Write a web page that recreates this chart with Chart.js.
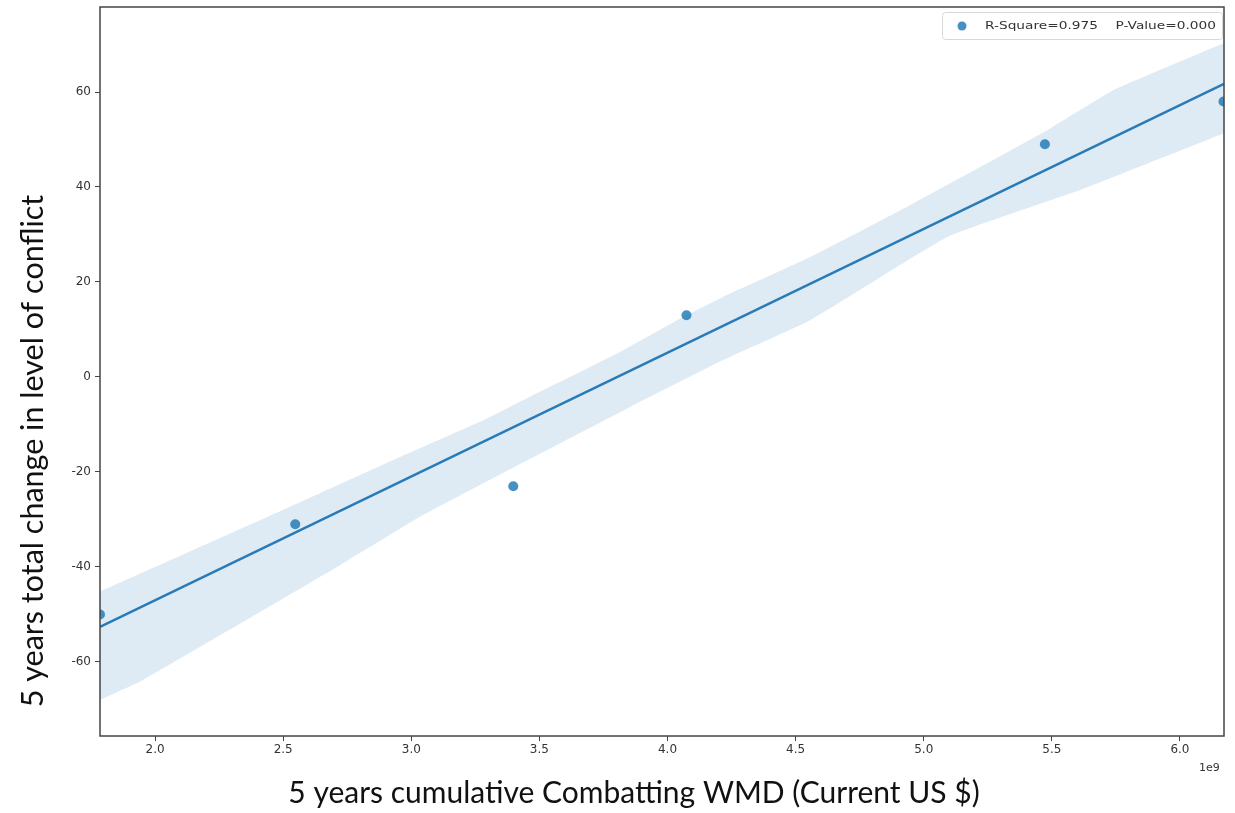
<!DOCTYPE html>
<html>
<head>
<meta charset="utf-8">
<script src="https://cdn.jsdelivr.net/npm/chart.js@4.4.1/dist/chart.umd.min.js"></script>
<style>
  html, body { margin: 0; padding: 0; background: #fff; }
  #wrap { width: 1235px; height: 813px; position: relative; }
</style>
</head>
<body>
<div id="wrap"><canvas id="c" width="1235" height="813"></canvas></div>
<script>
// ---- data ----
const pointX = [1.785e9, 2.547e9, 3.398e9, 4.074e9, 5.473e9, 6.170e9];
const pointY = [-50, -31, -23, 13, 49, 58];

const fitX = [1.785e9, 6.172e9];
const fitY = [-52.6, 61.7];

const upperX = [1.785e9, 2.516e9, 2.930e9, 3.270e9, 3.465e9, 3.805e9, 4.063e9, 4.219e9, 4.559e9, 4.961e9, 5.484e9, 5.742e9, 6.172e9];
const upperY = [-45.2, -27.6, -17.5, -9.4, -4.1, 5.0, 12.7, 16.9, 25.3, 36.6, 52.0, 60.4, 70.3];

const lowerX = [1.785e9, 1.953e9, 2.723e9, 3.035e9, 3.230e9, 3.504e9, 3.855e9, 4.219e9, 4.559e9, 5.094e9, 5.613e9, 6.172e9];
const lowerY = [-68.0, -63.8, -39.6, -29.4, -23.8, -16.1, -6.3, 3.6, 12.0, 29.5, 39.4, 51.3];

const xTicks = [2.0e9, 2.5e9, 3.0e9, 3.5e9, 4.0e9, 4.5e9, 5.0e9, 5.5e9, 6.0e9];
const yTicks = [-60, -40, -20, 0, 20, 40, 60];

const legendText = 'R-Square=0.975    P-Value=0.000';
const xTitle = '5 years cumulative Combatting WMD (Current US $)';
const yTitle = '5 years total change in level of conflict';
const offsetText = '1e9';

const zip = (xs, ys) => xs.map((x, i) => ({ x: x, y: ys[i] }));

const BLUE = '#2a7ab7';
const DOT = 'rgba(31,119,180,0.82)';
const BAND = 'rgba(31,119,180,0.15)';

const decor = {
  id: 'decor',
  afterDatasetsDraw(chart) {
    const ctx = chart.ctx;
    const a = chart.chartArea;
    ctx.save();
    // frame
    ctx.strokeStyle = '#444';
    ctx.lineWidth = 1.5;
    ctx.strokeRect(a.left, a.top, a.right - a.left, a.bottom - a.top);
    // legend box
    const lx = 942, ly = 12, lw = 280, lh = 27;
    ctx.fillStyle = 'rgba(255,255,255,0.9)';
    ctx.strokeStyle = '#d8d8d8';
    ctx.lineWidth = 1;
    ctx.beginPath();
    ctx.roundRect(lx + 0.5, ly + 0.5, lw, lh, 3);
    ctx.fill();
    ctx.stroke();
    ctx.fillStyle = DOT;
    ctx.beginPath();
    ctx.arc(962, 26, 4.5, 0, Math.PI * 2);
    ctx.fill();
    ctx.fillStyle = '#333';
    ctx.font = '11px "DejaVu Sans"';
    ctx.textBaseline = 'middle';
    ctx.textAlign = 'left';
    const lwid = ctx.measureText(legendText).width;
    ctx.save();
    ctx.translate(985, 26);
    ctx.scale(231 / lwid, 1);
    ctx.fillText(legendText, 0, 0);
    ctx.restore();
    // offset text
    ctx.font = '11px "DejaVu Sans"';
    ctx.textAlign = 'left';
    ctx.fillText(offsetText, 1199, 768);
    // axis titles
    ctx.fillStyle = '#111';
    ctx.textAlign = 'center';
    ctx.textBaseline = 'middle';
    ctx.font = '100px Lato';
    let w = ctx.measureText(xTitle).width;
    let fs = 100 * 692 / w;
    ctx.font = fs.toFixed(1) + 'px Lato';
    ctx.fillText(xTitle, 634, 793);
    ctx.font = '100px Lato';
    w = ctx.measureText(yTitle).width;
    fs = 100 * 513 / w;
    ctx.font = fs.toFixed(1) + 'px Lato';
    ctx.translate(33, 451);
    ctx.rotate(-Math.PI / 2);
    ctx.fillText(yTitle, 0, 0);
    ctx.restore();
  }
};

new Chart(document.getElementById('c'), {
  type: 'scatter',
  data: {
    datasets: [
      { label: 'points', data: zip(pointX, pointY), backgroundColor: DOT, borderColor: DOT, pointRadius: 5, pointBorderWidth: 0, showLine: false },
      { label: 'fit', data: zip(fitX, fitY), showLine: true, borderColor: BLUE, borderWidth: 2.5, pointRadius: 0, fill: false },
      { label: 'upper', data: zip(upperX, upperY), showLine: true, borderWidth: 0, borderColor: 'rgba(0,0,0,0)', pointRadius: 0, fill: false, tension: 0.12 },
      { label: 'lower', data: zip(lowerX, lowerY), showLine: true, borderWidth: 0, borderColor: 'rgba(0,0,0,0)', pointRadius: 0, fill: '-1', backgroundColor: BAND, tension: 0.12 }
    ]
  },
  options: {
    responsive: false,
    animation: false,
    devicePixelRatio: 1,
    layout: { padding: { top: 7, right: 11, left: 0, bottom: 0 } },
    plugins: { legend: { display: false }, tooltip: { enabled: false } },
    scales: {
      x: {
        type: 'linear',
        min: 1.785e9,
        max: 6.172e9,
        afterBuildTicks: s => { s.ticks = xTicks.map(v => ({ value: v })); },
        afterFit: s => { s.height = 77; s.paddingLeft = 0; s.paddingRight = 0; },
        border: { display: false },
        grid: { display: true, drawOnChartArea: false, drawTicks: true, tickLength: 5, color: '#444', tickWidth: 1 },
        ticks: { color: '#333', font: { family: 'DejaVu Sans', size: 12 }, padding: 2, maxRotation: 0,
                 callback: v => (v / 1e9).toFixed(1) }
      },
      y: {
        type: 'linear',
        min: -75.6,
        max: 77.9,
        afterBuildTicks: s => { s.ticks = yTicks.map(v => ({ value: v })); },
        afterFit: s => { s.width = 100; s.paddingTop = 0; s.paddingBottom = 0; },
        border: { display: false },
        grid: { display: true, drawOnChartArea: false, drawTicks: true, tickLength: 5, color: '#444', tickWidth: 1 },
        ticks: { color: '#333', font: { family: 'DejaVu Sans', size: 12 }, padding: 4,
                 callback: v => String(v) }
      }
    }
  },
  plugins: [decor]
});
</script>
</body>
</html>
